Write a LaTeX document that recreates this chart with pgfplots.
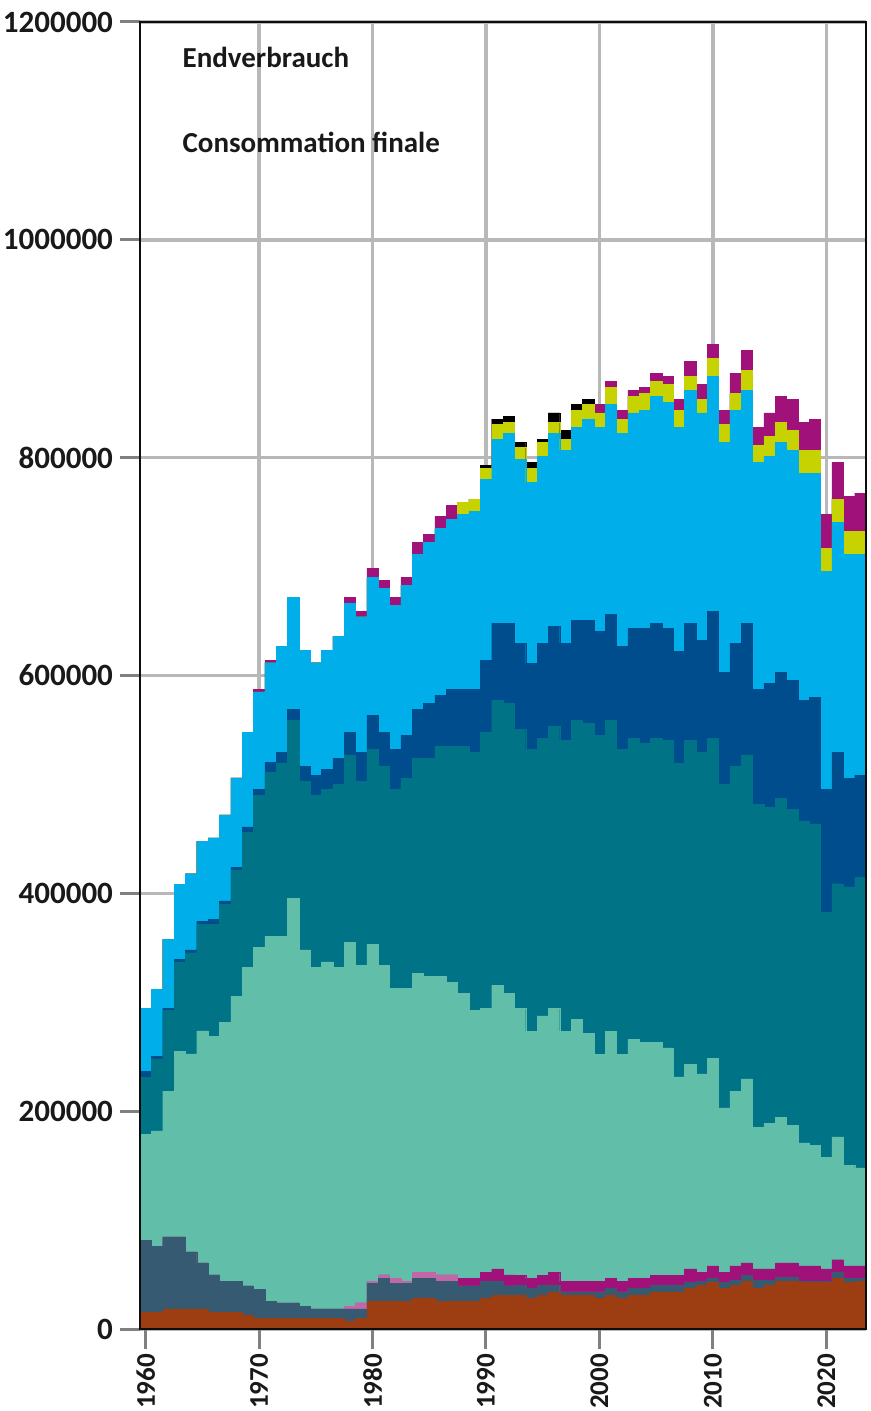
\documentclass[border=0pt]{standalone}
\usepackage{fontspec}
\setmainfont{Carlito}
\usepackage{pgfplots}
\usepackage{pgfplotstable}
\pgfplotsset{compat=1.18}

\definecolor{cBrown}{HTML}{9C3E11}
\definecolor{cSlate}{HTML}{355A72}
\definecolor{cPink}{HTML}{C266A8}
\definecolor{cMag}{HTML}{A0117A}
\definecolor{cLTeal}{HTML}{61BEA8}
\definecolor{cTeal}{HTML}{007486}
\definecolor{cDBlue}{HTML}{004D8E}
\definecolor{cCyan}{HTML}{00AEE9}
\definecolor{cYel}{HTML}{C6D300}
\definecolor{cBlack}{HTML}{000000}
\definecolor{gridgray}{HTML}{B8B8B8}

\pgfplotsset{mybar/.style={ybar, bar width=1, bar shift=0pt, fill=#1, draw=#1, line width=0.15pt}}

% cumulative tops of the stacked layers (TJ), bottom to top
\pgfplotstableread{
year B1 B2 B3 B4 B5 B6 B7 B8 B9 B10 B11
1960 15600 81700 81700 81700 179000 231000 236800 294700 294700 294700 294700
1961 15600 76200 76200 76200 181800 247900 250600 311800 311800 311800 311800
1962 18400 84500 84500 84500 218500 292800 294700 358000 358000 358000 358000
1963 18400 84500 84500 84500 255000 337000 339700 408500 408500 408500 408500
1964 18400 70700 70700 70700 252500 345500 348000 418000 418000 418000 418000
1965 18400 60600 60600 60600 273600 371800 374500 448000 448000 448000 448000
1966 15600 49600 49600 49600 269000 371800 376000 451000 451000 451000 451000
1967 15600 44000 44000 44000 281800 390000 393000 472000 472000 472000 472000
1968 15600 44000 44000 44000 305700 421600 424000 506000 506000 506000 506000
1969 12900 39500 39500 39500 332000 456000 461000 548000 548000 548000 548000
1970 10000 36700 36700 36700 350700 490000 495700 585000 585000 585000 587500
1971 10000 25700 25700 25700 360800 511000 520000 611700 611700 611700 614000
1972 10000 23900 23900 23900 360800 519600 529700 627000 627000 627000 627000
1973 10000 23900 23900 23900 395700 559000 569000 672000 672000 672000 672000
1974 10000 21000 21000 21000 348000 503000 516800 623000 623000 623000 623000
1975 10000 18400 18400 18400 332000 490000 508600 611700 611700 611700 611700
1976 10000 18400 18400 18400 337000 495700 514000 623000 623000 623000 623000
1977 10000 18400 18400 18400 332000 500000 524000 636000 636000 636000 636000
1978 7300 18400 21000 21000 355000 527000 548000 666500 666500 666500 672000
1979 10000 18400 23900 23900 334000 503000 529700 654000 654000 654000 659000
1980 25700 42200 44000 44000 353400 532400 563600 690000 690000 690000 698600
1981 25700 46800 49600 49600 334000 516800 548000 680000 680000 680000 687600
1982 25700 42200 46800 46800 313000 495700 532400 664600 664600 664600 672000
1983 25700 42200 44000 44000 313000 505800 545000 683000 683000 683000 690000
1984 28500 46800 52300 52300 326800 524000 569000 711500 711500 711500 722500
1985 28500 46800 52300 52300 324000 524000 574700 722500 722500 722500 729800
1986 25700 44000 49600 49600 324000 535000 582000 735000 735000 735000 746000
1987 25700 44000 49600 49600 318500 535000 587500 743600 743600 743600 756000
1988 25700 39500 39500 46800 308400 535000 587500 748000 759000 759000 759000
1989 25700 39500 39500 46800 292800 529700 587500 751000 762000 762000 762000
1990 28500 44000 44000 52300 294700 548000 614000 780300 790400 793000 793000
1991 31200 44000 44000 55100 315800 577400 648000 817000 830800 835400 835400
1992 31200 39500 39500 49600 308400 574700 648000 822500 832600 838000 838000
1993 31400 39900 39900 49400 294700 550800 629700 798700 809700 814000 814000
1994 28500 37100 37100 46500 273500 532400 611400 777500 790400 796000 796000
1995 31400 39900 39900 49400 287400 542500 629700 801400 814000 817000 817000
1996 34200 39900 39900 52200 294700 553600 645400 822500 832600 841000 841000
1997 31400 34200 34200 43700 273500 540700 629700 807000 817000 825300 825300
1998 31400 34200 34200 43700 284600 559000 650900 828000 843600 849000 849000
1999 31400 34200 34200 43700 271600 556300 650900 835400 849000 853700 853700
2000 28500 34200 34200 43700 252400 545300 640800 828000 841000 841000 849000
2001 31400 37100 37100 46500 273500 559000 656400 849000 864800 864800 870300
2002 28500 34200 34200 43700 252400 532400 627000 822500 835400 835400 843600
2003 31400 37100 37100 46500 266200 542500 643500 841000 856500 856500 862000
2004 31400 37100 37100 46500 263400 538000 643500 843600 859300 859300 864800
2005 34200 39900 39900 49400 263400 542500 648000 856500 870300 870300 877600
2006 34200 39900 39900 49400 258000 540700 643500 851000 867500 867500 874900
2007 34200 39900 39900 49400 231400 519600 622400 828000 843600 843600 853700
2008 37100 42800 42800 55100 242800 540700 648000 862000 874900 874900 888600
2009 39900 43700 43700 52200 234300 529700 632500 841000 853700 853700 867500
2010 42800 46500 46500 57900 248500 542500 659000 874900 891400 891400 904200
2011 37100 42800 42800 52200 203000 500000 603000 814300 830800 830800 843600
2012 39900 44600 44600 57900 218500 516800 629700 843600 859300 859300 877600
2013 43700 49400 49400 60800 229600 527000 648000 862000 880400 880400 898700
2014 37100 44600 44600 55100 185000 482000 587500 796000 811500 811500 828000
2015 39900 44600 44600 55100 188800 479000 593000 801400 819800 819800 841000
2016 43700 47500 47500 60800 194500 487500 603000 814300 832600 832600 856500
2017 43700 47500 47500 60800 186900 477000 595800 807000 825300 825300 853700
2018 42800 43700 43700 57900 170800 466600 577400 785800 807000 807000 832600
2019 42800 43700 43700 57900 168900 463800 580200 785800 807000 807000 835400
2020 42800 43700 43700 55100 157500 382300 495700 695800 717000 717000 748200
2021 46500 52200 52200 63600 176400 408800 529700 740800 762000 762000 796000
2022 42800 46500 46500 57900 150000 406000 505800 711500 732600 732600 764700
2023 43700 46500 46500 57900 148000 414500 508600 711500 732600 732600 767400
}\data

\begin{document}
\begin{tikzpicture}
\begin{axis}[
  scale only axis, width=363pt, height=653.5pt,
  xmin=1959.5, xmax=2023.5, ymin=0, ymax=1200000,
  xtick={1970,1980,...,2020},
  extra x ticks={1960}, extra x tick style={grid=none},
  ytick={0,200000,...,1200000},
  scaled y ticks=false,
  /pgf/number format/1000 sep={},
  /pgf/number format/assume math mode=true,
  yticklabel style={/pgf/number format/fixed, font=\fontsize{15.5}{16}\selectfont\bfseries},
  grid=major,
  major grid style={line width=1.8pt, draw=gridgray},
  tick align=outside, tick pos=left,
  major tick length=10pt,
  tick style={line width=1.5pt, draw=gray},
  axis line style={line width=1.3pt},
  tick label style={text=black!90},
  xticklabel style={rotate=90, anchor=east, font=\fontsize{13.5}{14}\selectfont\bfseries, xshift=1pt},
  clip=false,
]
\addplot[mybar=cMag]   table[x=year,y=B11] {\data};
\addplot[mybar=cBlack] table[x=year,y=B10] {\data};
\addplot[mybar=cYel]   table[x=year,y=B9]  {\data};
\addplot[mybar=cCyan]  table[x=year,y=B8]  {\data};
\addplot[mybar=cDBlue] table[x=year,y=B7]  {\data};
\addplot[mybar=cTeal]  table[x=year,y=B6]  {\data};
\addplot[mybar=cLTeal] table[x=year,y=B5]  {\data};
\addplot[mybar=cMag]   table[x=year,y=B4]  {\data};
\addplot[mybar=cPink]  table[x=year,y=B3]  {\data};
\addplot[mybar=cSlate] table[x=year,y=B2]  {\data};
\addplot[mybar=cBrown] table[x=year,y=B1]  {\data};
\node[anchor=west, font=\fontsize{14.5}{16}\selectfont\bfseries, text=black!90] at (rel axis cs:0.049,0.9725) {Endverbrauch};
\node[anchor=west, font=\fontsize{14.5}{16}\selectfont\bfseries, text=black!90] at (rel axis cs:0.049,0.908) {Consommation finale};
\end{axis}
\draw[line width=1.3pt, black!95] (current axis.south west) rectangle (current axis.north east);
\pgfresetboundingbox
\path[use as bounding box] ([shift={(-70pt,-41pt)}]current axis.south west) rectangle ([shift={(2.5pt,11pt)}]current axis.north east);
\end{tikzpicture}
\end{document}
